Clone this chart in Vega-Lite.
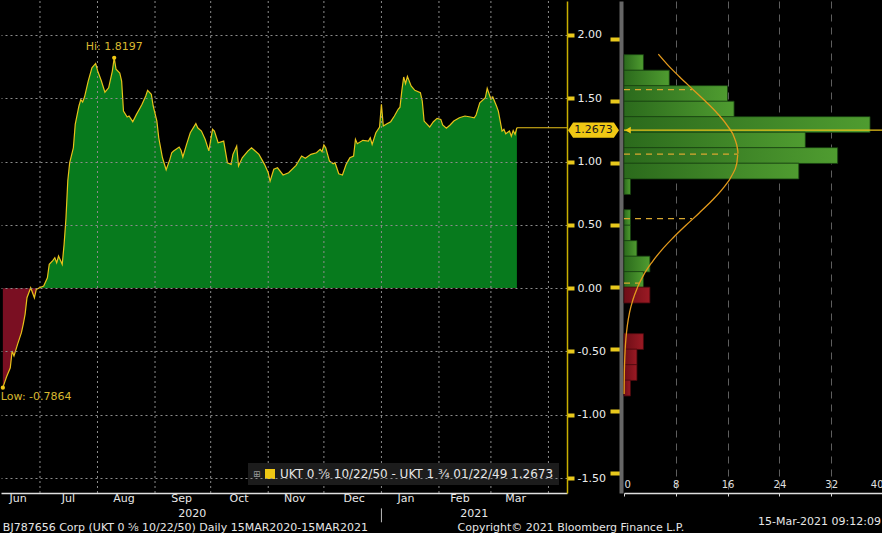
{
 "$schema": "https://vega.github.io/schema/vega-lite/v6.json",
 "background": "#000000",
 "padding": 0,
 "bounds": "flush",
 "spacing": 57,
 "config": {"view": {"stroke": null}, "font": "DejaVu Sans"},
 "resolve": {"scale": {"color": "independent"}, "legend": {"color": "independent"}},
 "datasets": {
  "series": [
   {"d":"2020-06-11","v":-0.7864},{"d":"2020-06-13","v":-0.70},{"d":"2020-06-15","v":-0.629},{"d":"2020-06-16","v":-0.497},
   {"d":"2020-06-17","v":-0.536},{"d":"2020-06-19","v":-0.44},{"d":"2020-06-21","v":-0.352},{"d":"2020-06-22","v":-0.284},
   {"d":"2020-06-23","v":-0.205},{"d":"2020-06-24","v":-0.076},{"d":"2020-06-26","v":0.003},{"d":"2020-06-28","v":-0.076},
   {"d":"2020-06-29","v":-0.01},{"d":"2020-07-01","v":0.005},{"d":"2020-07-03","v":0.017},{"d":"2020-07-05","v":0.082},
   {"d":"2020-07-06","v":0.188},{"d":"2020-07-08","v":0.22},{"d":"2020-07-09","v":0.24},{"d":"2020-07-10","v":0.2},
   {"d":"2020-07-11","v":0.254},{"d":"2020-07-13","v":0.188},{"d":"2020-07-14","v":0.346},{"d":"2020-07-15","v":0.55},
   {"d":"2020-07-16","v":0.85},{"d":"2020-07-17","v":0.99},{"d":"2020-07-19","v":1.109},{"d":"2020-07-20","v":1.294},
   {"d":"2020-07-22","v":1.439},{"d":"2020-07-23","v":1.49},{"d":"2020-07-24","v":1.47},{"d":"2020-07-25","v":1.51},
   {"d":"2020-07-27","v":1.636},{"d":"2020-07-29","v":1.741},{"d":"2020-07-31","v":1.775},{"d":"2020-08-01","v":1.72},
   {"d":"2020-08-03","v":1.64},{"d":"2020-08-05","v":1.548},{"d":"2020-08-07","v":1.583},{"d":"2020-08-09","v":1.715},
   {"d":"2020-08-10","v":1.8197},{"d":"2020-08-11","v":1.729},{"d":"2020-08-13","v":1.70},{"d":"2020-08-14","v":1.636},
   {"d":"2020-08-15","v":1.399},{"d":"2020-08-17","v":1.352},{"d":"2020-08-18","v":1.36},{"d":"2020-08-20","v":1.315},
   {"d":"2020-08-22","v":1.373},{"d":"2020-08-24","v":1.425},{"d":"2020-08-25","v":1.452},{"d":"2020-08-27","v":1.518},
   {"d":"2020-08-28","v":1.563},{"d":"2020-08-30","v":1.531},{"d":"2020-08-31","v":1.439},{"d":"2020-09-02","v":1.32},
   {"d":"2020-09-03","v":1.188},{"d":"2020-09-05","v":1.03},{"d":"2020-09-07","v":0.935},{"d":"2020-09-09","v":1.017},
   {"d":"2020-09-10","v":1.07},{"d":"2020-09-11","v":1.083},{"d":"2020-09-14","v":1.115},{"d":"2020-09-15","v":1.089},
   {"d":"2020-09-16","v":1.036},{"d":"2020-09-18","v":1.136},{"d":"2020-09-20","v":1.228},{"d":"2020-09-23","v":1.30},
   {"d":"2020-09-24","v":1.267},{"d":"2020-09-26","v":1.241},{"d":"2020-09-28","v":1.176},{"d":"2020-09-30","v":1.085},
   {"d":"2020-10-02","v":1.255},{"d":"2020-10-03","v":1.241},{"d":"2020-10-05","v":1.149},{"d":"2020-10-08","v":1.162},
   {"d":"2020-10-10","v":0.991},{"d":"2020-10-12","v":0.978},{"d":"2020-10-13","v":1.057},{"d":"2020-10-15","v":1.123},
   {"d":"2020-10-16","v":0.965},{"d":"2020-10-18","v":1.03},{"d":"2020-10-21","v":1.083},{"d":"2020-10-23","v":1.109},
   {"d":"2020-10-25","v":1.083},{"d":"2020-10-27","v":1.057},{"d":"2020-10-30","v":0.978},{"d":"2020-11-01","v":0.912},
   {"d":"2020-11-02","v":0.846},{"d":"2020-11-04","v":0.939},{"d":"2020-11-06","v":0.951},{"d":"2020-11-09","v":0.894},
   {"d":"2020-11-12","v":0.912},{"d":"2020-11-16","v":0.97},{"d":"2020-11-19","v":1.044},{"d":"2020-11-21","v":1.026},
   {"d":"2020-11-24","v":1.057},{"d":"2020-11-27","v":1.07},{"d":"2020-11-29","v":1.097},{"d":"2020-11-30","v":1.078},
   {"d":"2020-12-01","v":1.131},{"d":"2020-12-02","v":1.109},{"d":"2020-12-04","v":1.004},{"d":"2020-12-06","v":0.983},
   {"d":"2020-12-07","v":0.991},{"d":"2020-12-09","v":0.904},{"d":"2020-12-11","v":0.894},{"d":"2020-12-13","v":0.978},
   {"d":"2020-12-15","v":1.03},{"d":"2020-12-17","v":1.044},{"d":"2020-12-18","v":1.176},{"d":"2020-12-19","v":1.141},
   {"d":"2020-12-22","v":1.168},{"d":"2020-12-25","v":1.162},{"d":"2020-12-26","v":1.188},{"d":"2020-12-27","v":1.136},
   {"d":"2020-12-29","v":1.228},{"d":"2020-12-31","v":1.273},{"d":"2021-01-01","v":1.452},{"d":"2021-01-02","v":1.281},
   {"d":"2021-01-04","v":1.299},{"d":"2021-01-06","v":1.315},{"d":"2021-01-08","v":1.36},{"d":"2021-01-10","v":1.413},
   {"d":"2021-01-11","v":1.43},{"d":"2021-01-12","v":1.56},{"d":"2021-01-13","v":1.668},{"d":"2021-01-14","v":1.615},
   {"d":"2021-01-15","v":1.673},{"d":"2021-01-17","v":1.597},{"d":"2021-01-19","v":1.563},{"d":"2021-01-22","v":1.544},
   {"d":"2021-01-23","v":1.478},{"d":"2021-01-24","v":1.32},{"d":"2021-01-27","v":1.273},{"d":"2021-01-29","v":1.315},
   {"d":"2021-01-31","v":1.341},{"d":"2021-02-02","v":1.333},{"d":"2021-02-03","v":1.289},{"d":"2021-02-05","v":1.263},
   {"d":"2021-02-07","v":1.289},{"d":"2021-02-09","v":1.32},{"d":"2021-02-12","v":1.346},{"d":"2021-02-15","v":1.36},
   {"d":"2021-02-18","v":1.352},{"d":"2021-02-20","v":1.346},{"d":"2021-02-21","v":1.368},{"d":"2021-02-23","v":1.465},
   {"d":"2021-02-26","v":1.504},{"d":"2021-02-27","v":1.579},{"d":"2021-03-01","v":1.492},{"d":"2021-03-02","v":1.51},
   {"d":"2021-03-04","v":1.439},{"d":"2021-03-05","v":1.399},{"d":"2021-03-07","v":1.241},{"d":"2021-03-08","v":1.255},
   {"d":"2021-03-09","v":1.22},{"d":"2021-03-11","v":1.241},{"d":"2021-03-12","v":1.20},{"d":"2021-03-13","v":1.245},
   {"d":"2021-03-14","v":1.215},{"d":"2021-03-15","v":1.2673}
  ],
  "months": [
   {"d":"2020-07-01"},{"d":"2020-08-01"},{"d":"2020-09-01"},{"d":"2020-10-01"},{"d":"2020-11-01"},
   {"d":"2020-12-01"},{"d":"2021-01-01"},{"d":"2021-02-01"},{"d":"2021-03-01"},{"d":"2021-04-01"}
  ],
  "binsPos": [
   {"mid":1.8125,"n":3},{"mid":1.6875,"n":7},{"mid":1.5625,"n":16},{"mid":1.4375,"n":17},{"mid":1.3125,"n":38},
   {"mid":1.1875,"n":28},{"mid":1.0625,"n":33},{"mid":0.9375,"n":27},{"mid":0.8125,"n":1},{"mid":0.5625,"n":1},
   {"mid":0.4375,"n":1},{"mid":0.3125,"n":2},{"mid":0.1875,"n":4},{"mid":0.0625,"n":3}
  ],
  "binsNeg": [
   {"mid":-0.0625,"n":4},{"mid":-0.4375,"n":3},{"mid":-0.5625,"n":2},{"mid":-0.6875,"n":2},{"mid":-0.8125,"n":1}
  ],
  "curve": [
   {"v":1.88,"c":5.3},{"v":1.8,"c":6.64},{"v":1.7,"c":8.53},{"v":1.6,"c":10.55},{"v":1.5,"c":12.58},{"v":1.4,"c":14.46},
   {"v":1.3,"c":16.01},{"v":1.2,"c":17.09},{"v":1.1,"c":17.58},{"v":1.074,"c":17.6},{"v":1.0,"c":17.42},{"v":0.9,"c":16.64},
   {"v":0.8,"c":15.32},{"v":0.7,"c":13.59},{"v":0.6,"c":11.62},{"v":0.5,"c":9.57},{"v":0.4,"c":7.6},{"v":0.3,"c":5.81},
   {"v":0.2,"c":4.29},{"v":0.1,"c":3.04},{"v":0.0,"c":2.09},{"v":-0.1,"c":1.38},{"v":-0.2,"c":0.87},{"v":-0.3,"c":0.54},
   {"v":-0.4,"c":0.32},{"v":-0.5,"c":0.18},{"v":-0.6,"c":0.1},{"v":-0.7,"c":0.05},{"v":-0.8,"c":0.03},{"v":-0.86,"c":0.02}
  ],
  "sdLines": [
   {"g":1,"v":1.594,"c":0},{"g":1,"v":1.594,"c":10.5},{"g":2,"v":1.074,"c":0},{"g":2,"v":1.074,"c":17.5},
   {"g":3,"v":0.554,"c":0},{"g":3,"v":0.554,"c":10.5},{"g":4,"v":0.034,"c":0},{"g":4,"v":0.034,"c":2.4}
  ]
 },
 "hconcat": [
  {
   "width": 566,
   "height": 492,
   "layer": [
    {
     "data": {"name": "series"},
     "mark": {"type": "area", "interpolate": "linear",
      "color": {"gradient": "linear", "x1": 0, "y1": 0, "x2": 0, "y2": 1,
       "stops": [{"offset": 0, "color": "#077a1d"}, {"offset": 0.6982, "color": "#077a1d"}, {"offset": 0.6984, "color": "#7a0f22"}, {"offset": 1, "color": "#7a0f22"}]}},
     "encoding": {
      "x": {"field": "d", "type": "temporal", "title": null,
       "scale": {"type": "utc", "domain": [{"year": 2020, "month": 6, "date": 10, "utc": true}, {"year": 2021, "month": 4, "date": 11, "utc": true}]},
       "axis": {
        "values": [
         {"year": 2020, "month": 6, "date": 19, "utc": true}, {"year": 2020, "month": 7, "date": 16, "utc": true},
         {"year": 2020, "month": 8, "date": 15, "utc": true}, {"year": 2020, "month": 9, "date": 15, "utc": true},
         {"year": 2020, "month": 10, "date": 16, "utc": true}, {"year": 2020, "month": 11, "date": 15, "utc": true},
         {"year": 2020, "month": 12, "date": 17, "utc": true}, {"year": 2021, "month": 1, "date": 14, "utc": true},
         {"year": 2021, "month": 2, "date": 12, "utc": true}, {"year": 2021, "month": 3, "date": 14, "utc": true}
        ],
        "format": "%b", "ticks": false, "grid": false,
        "domainColor": "#e0e0e0", "domainWidth": 1.5, "tickSize": 4,
        "labelColor": "#e8e8e8", "labelFontSize": 11, "labelPadding": -1, "labelOverlap": false, "labelFlush": false,
        "zindex": 1
       }},
      "y": {"field": "v", "type": "quantitative", "title": null,
       "scale": {"domain": [-1.6185, 2.2686], "nice": false, "zero": false},
       "axis": {
        "orient": "right",
        "values": [-1.5, -1.25, -1, -0.75, -0.5, -0.25, 0, 0.25, 0.5, 0.75, 1, 1.25, 1.5, 1.75, 2, 2.25],
        "labelExpr": "abs(datum.value*2 - round(datum.value*2)) < 0.01 ? replace(format(datum.value, '.2f'), '−', '-') : ''",
        "tickWidth": {"condition": {"test": "abs(datum.value*2 - round(datum.value*2)) < 0.01", "value": 4}, "value": 1.5},
        "tickSize": 7,
        "tickColor": "#e8c81c",
        "domainColor": "#c9b000", "domainWidth": 1.5,
        "grid": true,
        "gridOpacity": {"condition": {"test": "abs(datum.value*2 - round(datum.value*2)) < 0.01", "value": 1}, "value": 0},
        "gridColor": "#8c8c8c", "gridDash": [2, 3], "gridWidth": 1,
        "labelColor": "#ececec", "labelFontSize": 11, "labelPadding": 3, "labelAlign": "left", "labelOverlap": false,
        "zindex": 1
       }}
     }
    },
    {
     "data": {"name": "months"},
     "mark": {"type": "rule", "color": "#8c8c8c", "strokeWidth": 1, "strokeDash": [2, 3]},
     "encoding": {
      "x": {"field": "d", "type": "temporal", "title": null,
       "scale": {"type": "utc", "domain": [{"year": 2020, "month": 6, "date": 10, "utc": true}, {"year": 2021, "month": 4, "date": 11, "utc": true}]}}
     }
    },
    {
     "data": {"name": "series"},
     "mark": {"type": "line", "strokeWidth": 1.2, "interpolate": "linear", "color": "#e8c21a"},
     "encoding": {
      "x": {"field": "d", "type": "temporal", "title": null,
       "scale": {"type": "utc", "domain": [{"year": 2020, "month": 6, "date": 10, "utc": true}, {"year": 2021, "month": 4, "date": 11, "utc": true}]}},
      "y": {"field": "v", "type": "quantitative", "title": null,
       "scale": {"domain": [-1.6185, 2.2686], "nice": false, "zero": false}}
     }
    },
    {
     "data": {"values": [{"d1": "2021-03-15", "d2": "2021-04-11", "v": 1.2673}]},
     "mark": {"type": "rule", "color": "#e8c21a", "strokeWidth": 1.2},
     "encoding": {
      "x": {"field": "d1", "type": "temporal", "title": null,
       "scale": {"type": "utc", "domain": [{"year": 2020, "month": 6, "date": 10, "utc": true}, {"year": 2021, "month": 4, "date": 11, "utc": true}]}},
      "x2": {"field": "d2"},
      "y": {"field": "v", "type": "quantitative", "title": null,
       "scale": {"domain": [-1.6185, 2.2686], "nice": false, "zero": false}}
     }
    },
    {
     "data": {"values": [{"d": "2020-08-10", "v": 1.8197}, {"d": "2020-06-11", "v": -0.7864}]},
     "mark": {"type": "point", "filled": true, "size": 18, "opacity": 1},
     "encoding": {
      "x": {"field": "d", "type": "temporal", "title": null,
       "scale": {"type": "utc", "domain": [{"year": 2020, "month": 6, "date": 10, "utc": true}, {"year": 2021, "month": 4, "date": 11, "utc": true}]}},
      "y": {"field": "v", "type": "quantitative", "title": null,
       "scale": {"domain": [-1.6185, 2.2686], "nice": false, "zero": false}},
      "color": {"datum": "UKT 0 ⅝ 10/22/50 - UKT 1 ¾ 01/22/49 1.2673",
       "scale": {"range": ["#f0c814"]},
       "legend": {
        "orient": "bottom-right", "offset": 8,
        "title": "⊞", "titleOrient": "left", "titleColor": "#9a9a9a", "titleFontSize": 9, "titleFontWeight": "normal", "titlePadding": 3,
        "fillColor": "#1c1c1c", "padding": 5,
        "symbolType": "square", "symbolSize": 100, "symbolOpacity": 1,
        "labelColor": "#e6e6e6", "labelFontSize": 12, "labelLimit": 500, "labelFont": "DejaVu Sans"
       }}
     }
    },
    {
     "data": {"values": [{"d": "2020-08-10", "v": 1.8197, "t": "Hi: 1.8197"}]},
     "mark": {"type": "text", "color": "#d8b830", "fontSize": 11, "dy": -11, "align": "center"},
     "encoding": {
      "x": {"field": "d", "type": "temporal", "title": null,
       "scale": {"type": "utc", "domain": [{"year": 2020, "month": 6, "date": 10, "utc": true}, {"year": 2021, "month": 4, "date": 11, "utc": true}]}},
      "y": {"field": "v", "type": "quantitative", "title": null,
       "scale": {"domain": [-1.6185, 2.2686], "nice": false, "zero": false}},
      "text": {"field": "t"}
     }
    },
    {
     "data": {"values": [{"d": "2020-06-11", "v": -0.7864, "t": "Low: -0.7864"}]},
     "mark": {"type": "text", "color": "#d8b830", "fontSize": 11, "dy": 9, "dx": -2, "align": "left"},
     "encoding": {
      "x": {"field": "d", "type": "temporal", "title": null,
       "scale": {"type": "utc", "domain": [{"year": 2020, "month": 6, "date": 10, "utc": true}, {"year": 2021, "month": 4, "date": 11, "utc": true}]}},
      "y": {"field": "v", "type": "quantitative", "title": null,
       "scale": {"domain": [-1.6185, 2.2686], "nice": false, "zero": false}},
      "text": {"field": "t"}
     }
    },
    {
     "data": {"values": [
      {"d": "2020-06-11", "v": -1.895, "t": "BJ787656 Corp (UKT 0 ⅝ 10/22/50)  Daily 15MAR2020-15MAR2021"},
      {"d": "2021-02-11", "v": -1.895, "t": "Copyright© 2021 Bloomberg Finance L.P."}
     ]},
     "mark": {"type": "text", "color": "#e6e6e6", "fontSize": 11, "align": "left", "dx": 0, "baseline": "middle"},
     "encoding": {
      "x": {"field": "d", "type": "temporal", "title": null,
       "scale": {"type": "utc", "domain": [{"year": 2020, "month": 6, "date": 10, "utc": true}, {"year": 2021, "month": 4, "date": 11, "utc": true}]}},
      "y": {"field": "v", "type": "quantitative", "title": null,
       "scale": {"domain": [-1.6185, 2.2686], "nice": false, "zero": false}},
      "text": {"field": "t"}
     }
    },
    {
     "data": {"values": [{"d": "2020-09-21", "v": -1.785, "t": "2020"}, {"d": "2021-02-20", "v": -1.785, "t": "2021"}]},
     "mark": {"type": "text", "color": "#e8e8e8", "fontSize": 11, "align": "center", "baseline": "middle"},
     "encoding": {
      "x": {"field": "d", "type": "temporal", "title": null,
       "scale": {"type": "utc", "domain": [{"year": 2020, "month": 6, "date": 10, "utc": true}, {"year": 2021, "month": 4, "date": 11, "utc": true}]}},
      "y": {"field": "v", "type": "quantitative", "title": null,
       "scale": {"domain": [-1.6185, 2.2686], "nice": false, "zero": false}},
      "text": {"field": "t"}
     }
    },
    {
     "data": {"values": [{"d": "2021-01-01", "v": -1.74, "v2": -1.85}]},
     "mark": {"type": "rule", "color": "#bbbbbb", "strokeWidth": 1},
     "encoding": {
      "x": {"field": "d", "type": "temporal", "title": null,
       "scale": {"type": "utc", "domain": [{"year": 2020, "month": 6, "date": 10, "utc": true}, {"year": 2021, "month": 4, "date": 11, "utc": true}]}},
      "y": {"field": "v", "type": "quantitative", "title": null,
       "scale": {"domain": [-1.6185, 2.2686], "nice": false, "zero": false}},
      "y2": {"field": "v2"}
     }
    }
   ]
  },
  {
   "width": 259,
   "height": 492,
   "layer": [
    {
     "data": {"name": "binsPos"},
     "mark": {"type": "bar", "orient": "horizontal", "size": 15.8, "stroke": "#173f10", "strokeWidth": 0.8,
      "fill": {"gradient": "linear", "x1": 0, "y1": 0, "x2": 1, "y2": 0,
       "stops": [{"offset": 0, "color": "#2b6a1c"}, {"offset": 1, "color": "#4f9c30"}]}},
     "encoding": {
      "x": {"field": "n", "type": "quantitative", "title": null,
       "scale": {"domain": [0, 40], "nice": false, "zero": false},
       "axis": {
        "values": [0, 4, 8, 12, 16, 20, 24, 28, 32, 36, 40],
        "labelExpr": "datum.value % 8 == 0 ? datum.label : ''",
        "grid": true,
        "gridOpacity": {"condition": {"test": "datum.value % 8 == 0 && datum.value > 0 && datum.value < 40", "value": 1}, "value": 0},
        "gridColor": "#5e5e5e", "gridDash": [7, 6], "gridWidth": 1,
        "domainColor": "#dddddd", "domainWidth": 1.5, "tickColor": "#dddddd", "tickSize": 3,
        "labelBaseline": "bottom", "labelPadding": -7, "labelFlush": true, "labelOverlap": false,
        "labelColor": "#e0e0e0", "labelFontSize": 10
       }},
      "y": {"field": "mid", "type": "quantitative", "title": null,
       "scale": {"domain": [-1.6185, 2.2686], "nice": false, "zero": false},
       "axis": {
        "orient": "left",
        "values": [-1.5, -1, -0.5, 0, 0.5, 1, 1.5, 2],
        "labels": false, "grid": false,
        "tickSize": 11, "tickWidth": 4, "tickColor": "#e8c81c",
        "domainColor": "#666666", "domainWidth": 4, "offset": 3
       }}
     }
    },
    {
     "data": {"name": "binsNeg"},
     "mark": {"type": "bar", "orient": "horizontal", "size": 15.8, "stroke": "#4a0a0e", "strokeWidth": 0.8,
      "fill": {"gradient": "linear", "x1": 0, "y1": 0, "x2": 1, "y2": 0,
       "stops": [{"offset": 0, "color": "#6d0d16"}, {"offset": 1, "color": "#9b1a24"}]}},
     "encoding": {
      "x": {"field": "n", "type": "quantitative", "title": null, "scale": {"domain": [0, 40], "nice": false, "zero": false}},
      "y": {"field": "mid", "type": "quantitative", "title": null, "scale": {"domain": [-1.6185, 2.2686], "nice": false, "zero": false}}
     }
    },
    {
     "data": {"name": "sdLines"},
     "mark": {"type": "line", "color": "#d9a830", "strokeWidth": 1.2, "strokeDash": [6, 5]},
     "encoding": {
      "x": {"field": "c", "type": "quantitative", "title": null, "scale": {"domain": [0, 40], "nice": false, "zero": false}},
      "y": {"field": "v", "type": "quantitative", "title": null, "scale": {"domain": [-1.6185, 2.2686], "nice": false, "zero": false}},
      "detail": {"field": "g", "type": "nominal"}
     }
    },
    {
     "data": {"name": "curve"},
     "mark": {"type": "line", "color": "#e39a1c", "strokeWidth": 1.3, "interpolate": "monotone"},
     "encoding": {
      "x": {"field": "c", "type": "quantitative", "title": null, "scale": {"domain": [0, 40], "nice": false, "zero": false}},
      "y": {"field": "v", "type": "quantitative", "title": null, "scale": {"domain": [-1.6185, 2.2686], "nice": false, "zero": false}},
      "order": {"field": "v", "type": "quantitative"}
     }
    },
    {
     "data": {"values": [{"v": 1.2673}]},
     "mark": {"type": "rule", "color": "#e8c21a", "strokeWidth": 1.2},
     "encoding": {
      "y": {"field": "v", "type": "quantitative", "title": null, "scale": {"domain": [-1.6185, 2.2686], "nice": false, "zero": false}}
     }
    },
    {
     "data": {"values": [{"c": -4.71, "v": 1.2673}]},
     "mark": {"type": "point", "filled": true, "opacity": 1, "color": "#f0c814", "size": 2601,
      "shape": "M-1,0L-0.8,-0.3L0.8,-0.3L1,0L0.8,0.3L-0.8,0.3Z"},
     "encoding": {
      "x": {"field": "c", "type": "quantitative", "title": null, "scale": {"domain": [0, 40], "nice": false, "zero": false}},
      "y": {"field": "v", "type": "quantitative", "title": null, "scale": {"domain": [-1.6185, 2.2686], "nice": false, "zero": false}}
     }
    },
    {
     "data": {"values": [{"c": -4.71, "v": 1.2673, "t": "1.2673"}]},
     "mark": {"type": "text", "color": "#1b1b1b", "fontSize": 11, "align": "center", "baseline": "middle"},
     "encoding": {
      "x": {"field": "c", "type": "quantitative", "title": null, "scale": {"domain": [0, 40], "nice": false, "zero": false}},
      "y": {"field": "v", "type": "quantitative", "title": null, "scale": {"domain": [-1.6185, 2.2686], "nice": false, "zero": false}},
      "text": {"field": "t"}
     }
    },
    {
     "data": {"values": [{"c": 0.6, "v": 1.2673}]},
     "mark": {"type": "point", "filled": true, "opacity": 1, "color": "#f0c814", "size": 45, "shape": "triangle-left"},
     "encoding": {
      "x": {"field": "c", "type": "quantitative", "title": null, "scale": {"domain": [0, 40], "nice": false, "zero": false}},
      "y": {"field": "v", "type": "quantitative", "title": null, "scale": {"domain": [-1.6185, 2.2686], "nice": false, "zero": false}}
     }
    },
    {
     "data": {"values": [{"c": 40, "v": -1.895, "t": "15-Mar-2021 09:12:09"}]},
     "mark": {"type": "text", "color": "#e6e6e6", "fontSize": 11, "align": "right", "dx": -2, "baseline": "middle"},
     "encoding": {
      "x": {"field": "c", "type": "quantitative", "title": null, "scale": {"domain": [0, 40], "nice": false, "zero": false}},
      "y": {"field": "v", "type": "quantitative", "title": null, "scale": {"domain": [-1.6185, 2.2686], "nice": false, "zero": false}},
      "text": {"field": "t"}
     }
    }
   ]
  }
 ]
}
